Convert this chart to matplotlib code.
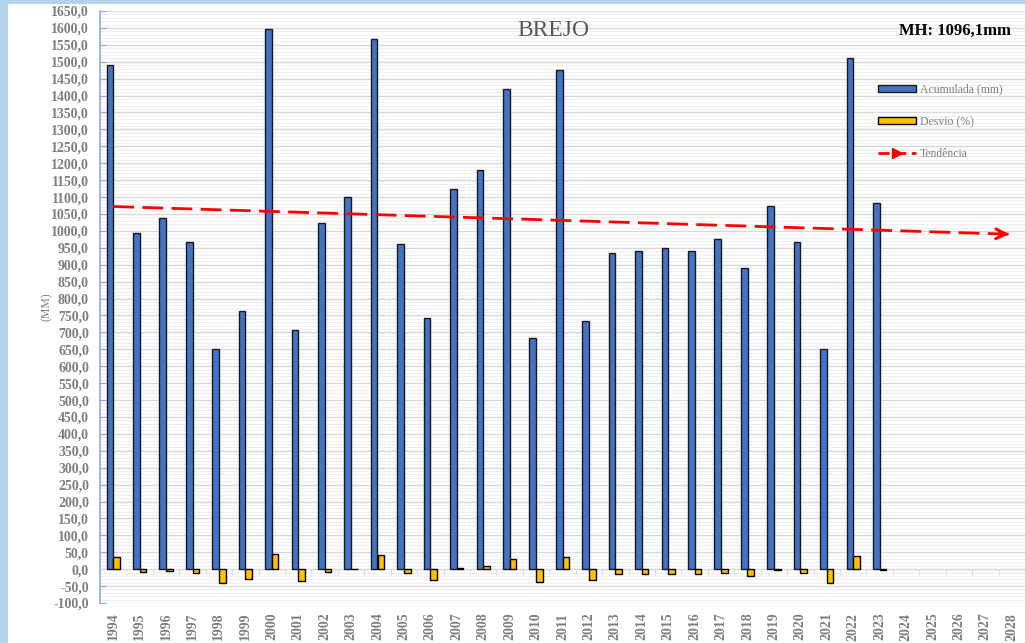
import numpy as np
import matplotlib
matplotlib.use('Agg')
import matplotlib.pyplot as plt
from matplotlib.patches import Rectangle, Patch
from matplotlib.lines import Line2D
from matplotlib.ticker import MultipleLocator, FuncFormatter

# anos do eixo (1994 a 2028)
anos = [str(a) for a in range(1994, 2029)]

# precipitacao acumulada (mm), 1994-2023
acumulada = [1490, 995, 1038, 967, 651, 763, 1597, 707, 1023, 1100,
             1568, 961, 742, 1124, 1180, 1420, 683, 1476, 734, 935,
             940, 950, 940, 976, 890, 1074, 967, 651, 1512, 1083]

# desvio em relacao a media historica (%)
desvio = [36, -9, -5, -12, -41, -30, 46, -36, -7, 0,
          43, -12, -32, 2, 8, 30, -38, 35, -33, -15,
          -14, -13, -14, -11, -19, -2, -12, -41, 38, -1]

# linha de tendencia (valor no primeiro e no ultimo ano do eixo)
tendencia_anos = [0, 34]
tendencia_val = [1072, 990]

titulo = "BREJO"
media_hist = "MH: 1096,1mm"

AZUL = '#4472c4'
AMARELO = '#ffc000'
CINZA = '#7f7f7f'
SERIF = 'Liberation Serif'

fig = plt.figure(figsize=(10.25, 6.43), dpi=100)
fig.patch.set_facecolor('white')

# moldura azul clara da captura
fig.patches.append(Rectangle((0, 0), 8 / 1025, 1, transform=fig.transFigure,
                             facecolor='#b3d3ec', edgecolor='none', zorder=-5))
fig.patches.append(Rectangle((0, 1 - 4 / 643), 1, 4 / 643, transform=fig.transFigure,
                             facecolor='#b3d3ec', edgecolor='none', zorder=-5))

ax = fig.add_axes([100 / 1025, 1 - 603 / 643, 925 / 1025, 592 / 643])

x = np.arange(len(acumulada))
w = 0.25
ax.bar(x - w / 2, acumulada, width=w, color=AZUL, edgecolor='#1a1a1a', linewidth=1, zorder=3)
ax.bar(x + w / 2, desvio, width=w, color=AMARELO, edgecolor='#000000', linewidth=1, zorder=3)

ax.plot(tendencia_anos, tendencia_val, color='#ff0000', linestyle=(0, (7.5, 3)),
        linewidth=2, zorder=4)
ax.annotate('', xy=(tendencia_anos[1], tendencia_val[1]),
            xytext=(tendencia_anos[1] - 0.6, tendencia_val[1] + 1.4),
            arrowprops=dict(arrowstyle='->,head_length=0.7,head_width=0.35',
                            color='#ff0000', lw=2.2), zorder=4)

ax.set_xlim(-0.5, len(anos) - 0.5)
ax.set_ylim(-100, 1650)

# grade
ax.yaxis.set_major_locator(MultipleLocator(50))
ax.yaxis.set_minor_locator(MultipleLocator(10))
ax.grid(which='major', axis='y', color='#d9d9d9', linewidth=1, zorder=0)
ax.grid(which='minor', axis='y', color='#efefef', linewidth=0.8, zorder=0)
ax.yaxis.set_major_formatter(FuncFormatter(lambda v, p: f"{v:.1f}".replace('.', ',')))
ax.tick_params(axis='y', which='major', direction='in', length=4, color='#8eaadb',
               labelsize=10, labelcolor=CINZA, pad=8)
ax.tick_params(axis='y', which='minor', length=0)
for lab in ax.get_yticklabels():
    lab.set_fontfamily(SERIF)
    lab.set_fontweight('bold')

for s in ['top', 'right']:
    ax.spines[s].set_visible(False)
ax.spines['left'].set_color('#8eaadb')
ax.spines['left'].set_linewidth(1.2)
ax.spines['bottom'].set_position(('data', 0))
ax.spines['bottom'].set_color('#d9d9d9')

# marcas entre categorias na linha do zero
ax.set_xticks(np.arange(len(anos) + 1) - 0.5)
ax.set_xticklabels([])
ax.tick_params(axis='x', direction='out', length=4, color='#d9d9d9')

# rotulos dos anos na base
sec = ax.secondary_xaxis('bottom')
sec.set_xticks(np.arange(len(anos)))
sec.set_xticklabels(anos, rotation=90, fontsize=10, color=CINZA,
                    fontfamily=SERIF, fontweight='bold')
sec.tick_params(length=0, pad=7)
sec.spines['bottom'].set_visible(False)

ax.set_ylabel('(MM)', fontsize=8.5, color=CINZA, fontfamily=SERIF, labelpad=-1)

fig.text(553 / 1025, 1 - 31 / 643, titulo, ha='center', va='center', fontsize=17,
         color='#595959', fontfamily=SERIF)
fig.text(955 / 1025, 1 - 31 / 643, media_hist, ha='center', va='center', fontsize=12,
         color='black', fontfamily=SERIF, fontweight='bold')

handles = [Patch(facecolor=AZUL, edgecolor='#1a1a1a', linewidth=1),
           Patch(facecolor=AMARELO, edgecolor='black', linewidth=1),
           Line2D([0], [0], color='#ff0000', linestyle=(0, (4, 2)), linewidth=2,
                  marker='>', markevery=[1], markersize=7)]
leg = ax.legend(handles, ['Acumulada (mm)', 'Desvio (%)', 'Tendência'],
                loc='upper left', bbox_to_anchor=(0.83, 0.895), frameon=False,
                prop={'family': SERIF, 'size': 8.5}, labelspacing=1.7,
                handlelength=3.2, handleheight=0.5, handletextpad=0.3)
for t in leg.get_texts():
    t.set_color(CINZA)

fig.savefig('out.png', dpi=100, facecolor='white')
